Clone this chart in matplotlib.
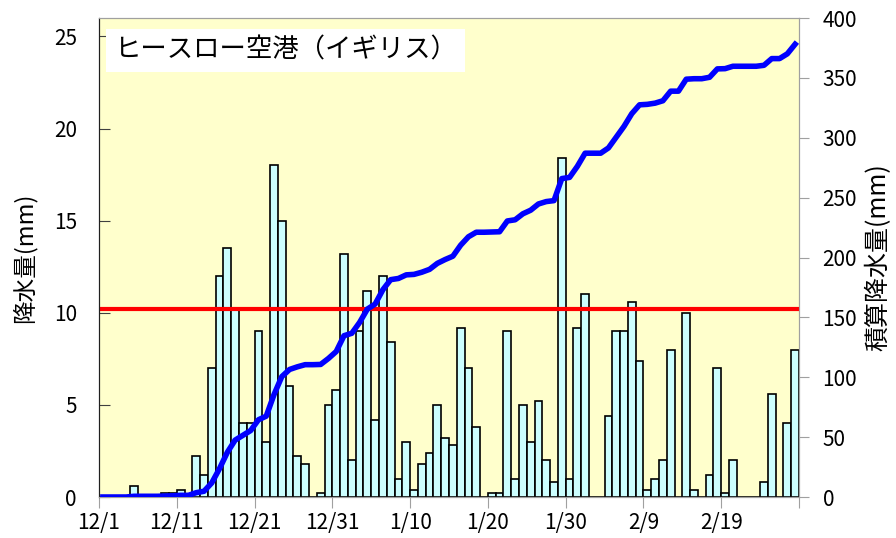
import numpy as np
import matplotlib
matplotlib.use("Agg")
import matplotlib.pyplot as plt

plt.rcParams['font.family'] = ['Noto Sans CJK JP', 'DejaVu Sans']

# daily precipitation (mm), 12/1 .. 2/28
rain = [0, 0, 0, 0, 0.6, 0, 0, 0, 0.2, 0.2,
        0.4, 0, 2.2, 1.2, 7.0, 12.0, 13.5, 10.2, 4.0, 4.0,
        9.0, 3.0, 18.0, 15.0, 6.0, 2.2, 1.8, 0, 0.2, 5.0,
        5.8, 13.2, 2.0, 9.0, 11.2, 4.2, 12.0, 8.4, 1.0, 3.0,
        0.4, 1.8, 2.4, 5.0, 3.2, 2.8, 9.2, 7.0, 3.8, 0,
        0.2, 0.2, 9.0, 1.0, 5.0, 3.0, 5.2, 2.0, 0.8, 18.4,
        1.0, 9.2, 11.0, 0, 0, 4.4, 9.0, 9.0, 10.6, 7.4,
        0.4, 1.0, 2.0, 8.0, 0, 10.0, 0.4, 0, 1.2, 7.0,
        0.2, 2.0, 0, 0, 0, 0.8, 5.6, 0, 4.0, 8.0]
ref_level = 10.2   # red reference line (mm)
tick_days = [0, 10, 20, 30, 40, 50, 60, 70, 80, 90]
tick_labels = ["12/1", "12/11", "12/21", "12/31", "1/10", "1/20", "1/30", "2/9", "2/19", ""]

days = np.arange(len(rain))
total = np.cumsum(rain)

fig = plt.figure(figsize=(8.96, 5.38), dpi=100)
ax = fig.add_axes([99/896, 1-497/538, 700/896, 479/538])
ax.set_facecolor("#FFFFCC")

ax.bar(days + 0.5, rain, width=1.0, color="#CCFFFF", edgecolor="black", linewidth=1.2, zorder=2)
ax.plot([0, 89.7], [ref_level, ref_level], color="red", linewidth=3, zorder=3)

ax.set_xlim(0, 90)
ax.set_ylim(0, 26)
ax.set_yticks([0, 5, 10, 15, 20, 25])
ax.set_xticks(tick_days)
ax.set_xticklabels(tick_labels)
ax.tick_params(axis="y", direction="in", length=8, pad=16, labelsize=15, color="#404040")
ax.tick_params(axis="x", direction="out", length=8, pad=3, labelsize=15, color="#A0A0A0")
ax.set_ylabel("降水量(mm)", fontsize=17, labelpad=12)

ax2 = ax.twinx()
ax2.plot(days + 0.5, total, color="#0000FF", linewidth=4, solid_joinstyle="round", zorder=4)
ax2.set_ylim(0, 400)
ax2.set_yticks(range(0, 401, 50))
ax2.tick_params(axis="y", direction="out", length=7, pad=10, labelsize=15, color="#A0A0A0")
ax2.set_ylabel("積算降水量(mm)", fontsize=18, rotation=90, labelpad=6)

for a in (ax, ax2):
    a.spines["top"].set_color("#A0A0A0")
    a.spines["bottom"].set_color("#A0A0A0")
    a.spines["right"].set_color("#A0A0A0")
    a.spines["left"].set_color("#202020")

ax.text(0.022, 0.933, "ヒースロー空港（イギリス）", transform=ax.transAxes, fontsize=19,
        va="center", ha="left", zorder=10,
        bbox=dict(boxstyle="square,pad=0.3", facecolor="white", edgecolor="none"))

fig.savefig("out.png", dpi=100)
